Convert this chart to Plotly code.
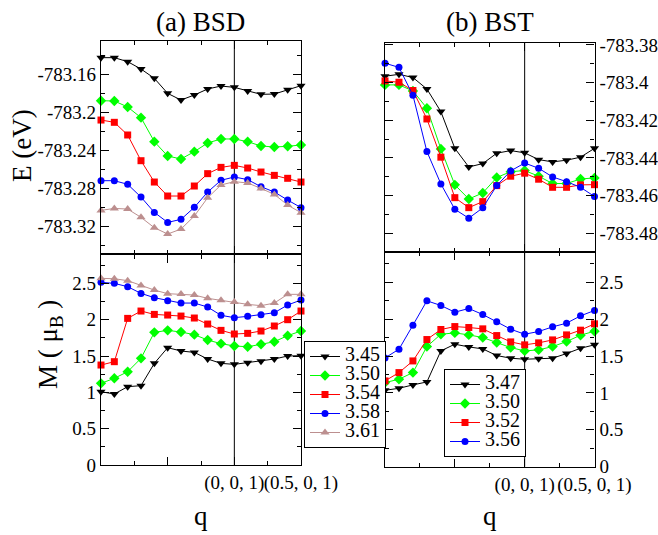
import plotly.graph_objects as go

# ---------------- data ----------------
q_pos = [0, 1, 2, 3, 4, 5, 6, 7, 8, 9, 10, 11, 12, 13, 14, 15]
q_tickvals = [0, 5, 10, 15]
q_ticktext = ["", "", "(0, 0, 1)", "(0.5, 0, 1)"]

bsd_labels = ["3.45", "3.50", "3.54", "3.58", "3.61"]
bst_labels = ["3.47", "3.50", "3.52", "3.56"]

e_bsd_345 = [-783.1425, -783.1425, -783.1467, -783.1544, -783.1642, -783.1800, -783.1870, -783.1817,
             -783.1754, -783.1723, -783.1737, -783.1775, -783.1810, -783.1807, -783.1761, -783.1719]
e_bsd_350 = [-783.1877, -783.1880, -783.1943, -783.2055, -783.2307, -783.2458, -783.2489, -783.2412,
             -783.2321, -783.2279, -783.2279, -783.2307, -783.2353, -783.2363, -783.2356, -783.2342]
e_bsd_354 = [-783.2080, -783.2104, -783.2237, -783.2507, -783.2731, -783.2878, -783.2878, -783.2773,
             -783.2643, -783.2577, -783.2556, -783.2584, -783.2626, -783.2661, -783.2692, -783.2731]
e_bsd_358 = [-783.2717, -783.2717, -783.2755, -783.2889, -783.3050, -783.3155, -783.3123, -783.2997,
             -783.2836, -783.2713, -783.2678, -783.2706, -783.2780, -783.2836, -783.2920, -783.3000]
e_bsd_361 = [-783.3029, -783.3008, -783.3015, -783.3102, -783.3211, -783.3277, -783.3225, -783.3088,
             -783.2896, -783.2762, -783.2727, -783.2741, -783.2798, -783.2861, -783.2973, -783.3053]

e_bst_347 = [-783.3966, -783.3956, -783.3973, -783.4034, -783.4154, -783.4349, -783.4448, -783.4430,
             -783.4375, -783.4361, -783.4373, -783.4409, -783.4421, -783.4412, -783.4396, -783.4349]
e_bst_350 = [-783.4012, -783.4012, -783.4044, -783.4136, -783.4352, -783.4543, -783.4618, -783.4586,
             -783.4504, -783.4473, -783.4467, -783.4497, -783.4536, -783.4536, -783.4512, -783.4506]
e_bst_352 = [-783.3991, -783.3998, -783.4042, -783.4193, -783.4396, -783.4611, -783.4664, -783.4632,
             -783.4547, -783.4497, -783.4481, -783.4513, -783.4556, -783.4556, -783.4543, -783.4542]
e_bst_356 = [-783.3897, -783.3919, -783.4067, -783.4366, -783.4538, -783.4673, -783.4720, -783.4665,
             -783.4547, -783.4469, -783.4427, -783.4455, -783.4501, -783.4526, -783.4556, -783.4605]

m_bsd_345 = [1.009, 0.977, 1.078, 1.092, 1.399, 1.615, 1.569, 1.550, 1.459, 1.399, 1.385, 1.408, 1.427, 1.459, 1.500, 1.505]
m_bsd_350 = [1.124, 1.193, 1.284, 1.468, 1.826, 1.853, 1.830, 1.794, 1.720, 1.670, 1.638, 1.628, 1.661, 1.697, 1.780, 1.844]
m_bsd_354 = [1.376, 1.422, 2.018, 2.119, 2.073, 2.064, 2.050, 2.023, 1.940, 1.853, 1.803, 1.812, 1.844, 1.913, 2.000, 2.119]
m_bsd_358 = [2.514, 2.500, 2.454, 2.362, 2.303, 2.261, 2.229, 2.229, 2.174, 2.060, 2.028, 2.046, 2.069, 2.096, 2.202, 2.271]
m_bsd_361 = [2.569, 2.564, 2.537, 2.472, 2.408, 2.358, 2.353, 2.339, 2.294, 2.266, 2.243, 2.211, 2.193, 2.229, 2.349, 2.349]

m_bst_347 = [1.036, 1.063, 1.109, 1.149, 1.570, 1.661, 1.624, 1.597, 1.507, 1.471, 1.457, 1.462, 1.471, 1.534, 1.606, 1.652]
m_bst_350 = [1.140, 1.186, 1.276, 1.629, 1.796, 1.814, 1.787, 1.751, 1.683, 1.615, 1.570, 1.584, 1.629, 1.697, 1.783, 1.837]
m_bst_352 = [1.163, 1.276, 1.434, 1.724, 1.860, 1.900, 1.887, 1.869, 1.778, 1.692, 1.652, 1.679, 1.719, 1.787, 1.851, 1.937]
m_bst_356 = [1.475, 1.593, 1.919, 2.249, 2.186, 2.095, 2.145, 2.063, 1.964, 1.864, 1.796, 1.833, 1.896, 1.946, 2.045, 2.118]

e_bsd_ticks = [-783.16, -783.2, -783.24, -783.28, -783.32]
e_bsd_ticktext = ["-783.16", "-783.2", "-783.24", "-783.28", "-783.32"]
e_bst_ticks = [-783.38, -783.4, -783.42, -783.44, -783.46, -783.48]
e_bst_ticktext = ["-783.38", "-783.4", "-783.42", "-783.44", "-783.46", "-783.48"]
m_ticks = [0, 0.5, 1, 1.5, 2, 2.5]
m_ticktext = ["0", "0.5", "1", "1.5", "2", "2.5"]

# ---------------- styles ----------------
FONT = "Liberation Serif, Times New Roman, serif"
W, H = 658, 535
styles = {
    "k": dict(color="#000000", symbol="triangle-down", size=8),
    "g": dict(color="#00ff00", symbol="diamond", size=8),
    "r": dict(color="#ff0000", symbol="square", size=7),
    "b": dict(color="#0000ff", symbol="circle", size=7),
    "p": dict(color="#bc8f8f", symbol="triangle-up", size=8),
}

def px_x(p):
    return p / W

def px_y(p):
    return 1 - p / H

fig = go.Figure()

def add(y, st, name, xa, ya, legend, show):
    s = styles[st]
    fig.add_trace(go.Scatter(
        x=q_pos, y=y, mode="lines+markers", xaxis=xa, yaxis=ya,
        name='<span style="font-size:20px">%s</span>' % name,
        legend=legend, showlegend=show, cliponaxis=False,
        line=dict(color=s["color"], width=1),
        marker=dict(color=s["color"], symbol=s["symbol"], size=s["size"]),
    ))

bsd_E = [e_bsd_345, e_bsd_350, e_bsd_354, e_bsd_358, e_bsd_361]
bsd_M = [m_bsd_345, m_bsd_350, m_bsd_354, m_bsd_358, m_bsd_361]
bst_E = [e_bst_347, e_bst_350, e_bst_352, e_bst_356]
bst_M = [m_bst_347, m_bst_350, m_bst_352, m_bst_356]
cols5 = ["k", "g", "r", "b", "p"]
cols4 = ["k", "g", "r", "b"]

for ys, c, n in zip(bsd_E, cols5, bsd_labels):
    add(ys, c, n, "x", "y", "legend", False)
for ys, c, n in zip(bsd_M, cols5, bsd_labels):
    add(ys, c, n, "x2", "y2", "legend", True)
for ys, c, n in zip(bst_E, cols4, bst_labels):
    add(ys, c, n, "x3", "y3", "legend2", False)
for ys, c, n in zip(bst_M, cols4, bst_labels):
    add(ys, c, n, "x4", "y4", "legend2", True)

# domains (pixels)
left_x = [px_x(101), px_x(301)]
right_x = [px_x(385), px_x(594.5)]
tl_y = [px_y(254.3), px_y(41)]
bl_y = [px_y(465), px_y(254.3)]
tr_y = [px_y(251.7), px_y(42.7)]
br_y = [px_y(466.7), px_y(251.7)]

tickfont = dict(family=FONT, size=19, color="#000")

def xax(domain, anchor, labels):
    return dict(
        domain=domain, anchor=anchor, range=[0, 15], automargin=False,
        showline=True, linecolor="#000", linewidth=1.4, mirror="allticks",
        ticks="inside", ticklen=8, tickwidth=1, tickcolor="#000",
        tickmode="array", tickvals=q_tickvals, ticktext=q_ticktext, tickangle=0,
        showticklabels=labels, tickfont=tickfont,
        minor=dict(ticks="inside", ticklen=4, tickwidth=1, tickcolor="#000", tick0=0, dtick=2.5, showgrid=False),
        showgrid=False, zeroline=False,
    )

def yax(domain, anchor, rng, tv, tt, mdt, mt0, side):
    return dict(
        domain=domain, anchor=anchor, range=rng, side=side, automargin=False,
        showline=True, linecolor="#000", linewidth=1.4, mirror="allticks",
        ticks="inside", ticklen=8, tickwidth=1, tickcolor="#000",
        tickmode="array", tickvals=tv, ticktext=tt, tickfont=tickfont, tickangle=0,
        minor=dict(ticks="inside", ticklen=4, tickwidth=1, tickcolor="#000", tick0=mt0, dtick=mdt, showgrid=False),
        showgrid=False, zeroline=False,
    )

fig.update_layout(
    template="none",
    width=W, height=H,
    margin=dict(l=0, r=0, t=0, b=0, pad=0),
    paper_bgcolor="white", plot_bgcolor="white",
    font=dict(family=FONT, color="#000"),
    xaxis=xax(left_x, "y", False),
    yaxis=yax(tl_y, "x", [-783.349, -783.125], e_bsd_ticks, e_bsd_ticktext, 0.02, -783.16, "left"),
    xaxis2=xax(left_x, "y2", True),
    yaxis2=yax(bl_y, "x2", [0, 2.9], m_ticks, m_ticktext, 0.25, 0, "left"),
    xaxis3=xax(right_x, "y3", False),
    yaxis3=yax(tr_y, "x3", [-783.4898, -783.3788], e_bst_ticks, e_bst_ticktext, 0.01, -783.38, "right"),
    xaxis4=xax(right_x, "y4", True),
    yaxis4=yax(br_y, "x4", [0, 2.915], m_ticks, m_ticktext, 0.25, 0, "right"),
    legend=dict(x=px_x(304), y=px_y(341), xanchor="left", yanchor="top",
                bgcolor="white", bordercolor="#000", borderwidth=1,
                font=dict(family=FONT, size=12, color="#000"), itemwidth=30),
    legend2=dict(x=px_x(444), y=px_y(369), xanchor="left", yanchor="top",
                 bgcolor="white", bordercolor="#000", borderwidth=1,
                 font=dict(family=FONT, size=12, color="#000"), itemwidth=30),
    showlegend=True,
)

# vertical markers at (0, 0, 1)
for xa, ya in [("x", "y"), ("x2", "y2"), ("x3", "y3"), ("x4", "y4")]:
    fig.add_shape(type="line", xref=xa, yref=ya + " domain", x0=10, x1=10, y0=0, y1=1,
                  line=dict(color="#000", width=1), layer="below")

def ann(text, x, y, size, angle=0):
    fig.add_annotation(text=text, x=x, y=y, xref="paper", yref="paper",
                       xanchor="center", yanchor="middle", showarrow=False,
                       textangle=angle, font=dict(family=FONT, size=size, color="#000"))

ann("(a) BSD", px_x(201), px_y(22), 27)
ann("(b) BST", px_x(490), px_y(22), 27)
ann("E (eV)", px_x(22), px_y(146), 27, -90)
ann("M ( μ<sub>B</sub> )", px_x(50), px_y(345), 27, -90)
ann("q", px_x(201), px_y(516), 27)
ann("q", px_x(490), px_y(516), 27)

fig.write_html("out.html", config={"displayModeBar": False},
               post_script="document.body.style.margin='0';document.body.style.overflow='hidden';")
